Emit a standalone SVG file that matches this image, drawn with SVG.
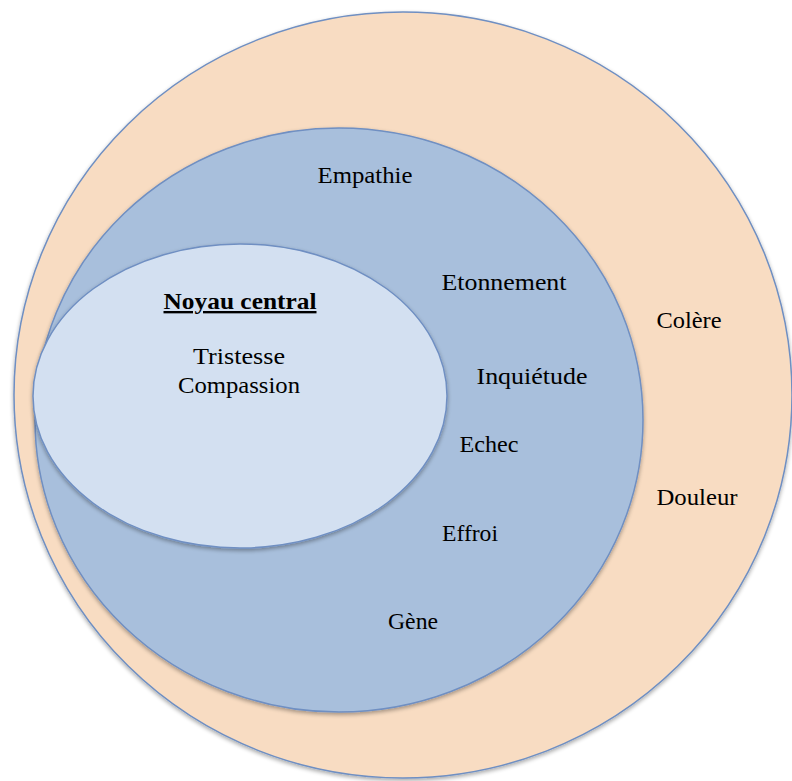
<svg xmlns="http://www.w3.org/2000/svg" width="792" height="781" viewBox="0 0 792 781">
<defs>
<filter id="sh" x="-5%" y="-5%" width="110%" height="110%">
<feGaussianBlur in="SourceAlpha" stdDeviation="2"/>
<feOffset dx="0" dy="2" result="b"/>
<feComponentTransfer><feFuncA type="linear" slope="0.35"/></feComponentTransfer>
<feMerge><feMergeNode/><feMergeNode in="SourceGraphic"/></feMerge>
</filter>
</defs>
<style>
.shape{stroke:#6F8FC2;stroke-width:1.5;filter:url(#sh)}
.lbl{font-family:"Liberation Serif","DejaVu Serif",serif;font-size:23.5px;fill:#000;text-anchor:middle}
.title{font-weight:bold;text-decoration:underline}
</style>
<rect width="792" height="781" fill="#fff"/>
<g id="outer">
<ellipse class="shape" cx="403" cy="395" rx="389" ry="383" fill="#F8DCC2"/>
<text class="lbl" x="689" y="328" textLength="65" lengthAdjust="spacingAndGlyphs">Colère</text>
<text class="lbl" x="697" y="505" textLength="81" lengthAdjust="spacingAndGlyphs">Douleur</text>
</g>
<g id="middle">
<ellipse class="shape" cx="339" cy="420" rx="304" ry="292" fill="#A8BFDC"/>
<text class="lbl" x="365" y="183" textLength="95" lengthAdjust="spacingAndGlyphs">Empathie</text>
<text class="lbl" x="504" y="290" textLength="125" lengthAdjust="spacingAndGlyphs">Etonnement</text>
<text class="lbl" x="532" y="384" textLength="111" lengthAdjust="spacingAndGlyphs">Inquiétude</text>
<text class="lbl" x="489" y="452" textLength="59" lengthAdjust="spacingAndGlyphs">Echec</text>
<text class="lbl" x="470" y="541" textLength="56" lengthAdjust="spacingAndGlyphs">Effroi</text>
<text class="lbl" x="413" y="629" textLength="50" lengthAdjust="spacingAndGlyphs">Gène</text>
</g>
<g id="core">
<ellipse class="shape" cx="240" cy="396" rx="207" ry="152" fill="#D3E0F1"/>
<text class="lbl title" x="240" y="309" textLength="153" lengthAdjust="spacingAndGlyphs">Noyau central</text>
<text class="lbl" x="239" y="364" textLength="92" lengthAdjust="spacingAndGlyphs">Tristesse</text>
<text class="lbl" x="239" y="393" textLength="122" lengthAdjust="spacingAndGlyphs">Compassion</text>
</g>
<g id="connectors"></g>
</svg>
